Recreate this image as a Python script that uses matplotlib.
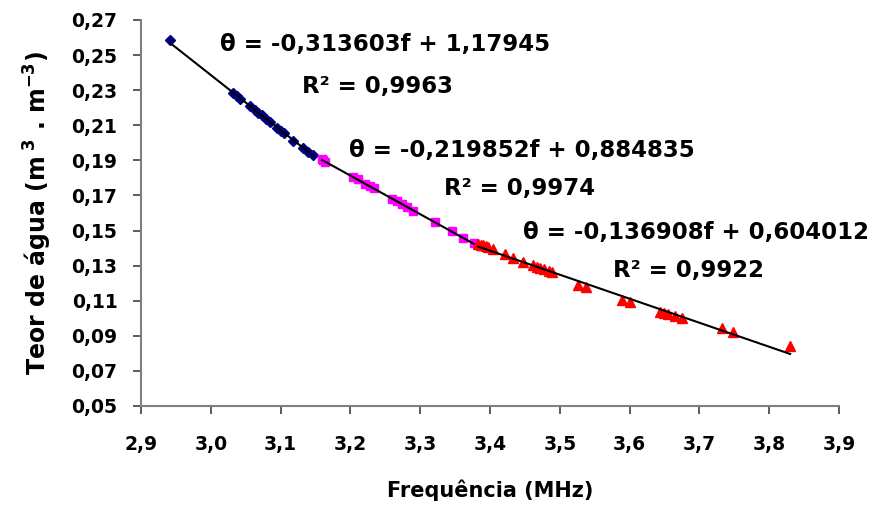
import matplotlib
matplotlib.use("Agg")
import matplotlib.pyplot as plt
import numpy as np
from matplotlib.ticker import FixedLocator, FixedFormatter

# ---- data ----
f_blue = [2.9415, 3.0318, 3.0375, 3.0418, 3.0562, 3.0633, 3.0676, 3.0734, 3.0791,
          3.0848, 3.0948, 3.1006, 3.1049, 3.1178, 3.1321, 3.1393, 3.1464]
t_blue = [0.2585, 0.2282, 0.2266, 0.2250, 0.2212, 0.2186, 0.2172, 0.2160, 0.2136,
          0.2118, 0.2086, 0.2070, 0.2058, 0.2012, 0.1968, 0.1950, 0.1932]

f_mag = [3.1593, 3.1610, 3.1636, 3.2037, 3.2109, 3.2209, 3.2281, 3.2338, 3.2596,
         3.2668, 3.2739, 3.2811, 3.2897, 3.3212, 3.3456, 3.3613, 3.3771]
t_mag = [0.1910, 0.1902, 0.1893, 0.1808, 0.1792, 0.1765, 0.1755, 0.1740, 0.1680,
         0.1670, 0.1650, 0.1632, 0.1614, 0.1550, 0.1495, 0.1455, 0.1428]

f_red = [3.383, 3.387, 3.390, 3.394, 3.397, 3.405, 3.421, 3.433, 3.447, 3.462,
         3.467, 3.472, 3.478, 3.484, 3.489, 3.526, 3.538, 3.589, 3.600, 3.644,
         3.650, 3.655, 3.665, 3.675, 3.732, 3.748, 3.830]
t_red = [0.1425, 0.1420, 0.1418, 0.1412, 0.1408, 0.1392, 0.1368, 0.1345, 0.1322,
         0.1302, 0.1292, 0.1286, 0.1278, 0.1270, 0.1262, 0.1192, 0.1178, 0.1105,
         0.1095, 0.1036, 0.1032, 0.1026, 0.1014, 0.1003, 0.0944, 0.0924, 0.0842]

# regression coefficients (slope, intercept) and R2
fit_blue = (-0.313603, 1.17945)
fit_mag = (-0.219852, 0.884835)
fit_red = (-0.136908, 0.604012)
eq_labels = ["θ = -0,313603f + 1,17945", "θ = -0,219852f + 0,884835",
             "θ = -0,136908f + 0,604012"]
r2_labels = ["R² = 0,9963", "R² = 0,9974", "R² = 0,9922"]

x_ticks = [2.9, 3.0, 3.1, 3.2, 3.3, 3.4, 3.5, 3.6, 3.7, 3.8, 3.9]
x_tick_labels = ["2,9", "3,0", "3,1", "3,2", "3,3", "3,4", "3,5", "3,6", "3,7", "3,8", "3,9"]
y_ticks = [0.05, 0.07, 0.09, 0.11, 0.13, 0.15, 0.17, 0.19, 0.21, 0.23, 0.25, 0.27]
y_tick_labels = ["0,05", "0,07", "0,09", "0,11", "0,13", "0,15", "0,17", "0,19",
                 "0,21", "0,23", "0,25", "0,27"]

plt.rcParams['font.family'] = ['DejaVu Sans']
plt.rcParams['font.weight'] = 'bold'
plt.rcParams['mathtext.default'] = 'bf'

fig = plt.figure(figsize=(8.7, 5.12), dpi=100)
ax = fig.add_axes([141/870, 1 - 406/512, 698/870, 386/512])

ax.plot(f_blue, t_blue, linestyle='none', marker='D', ms=5, color='#000080', zorder=2)
ax.plot(f_mag, t_mag, linestyle='none', marker='s', ms=6, color='#FF00FF', zorder=2)
ax.plot(f_red, t_red, linestyle='none', marker='^', ms=7, color='#FF0000', zorder=2)

for fx, fit in ((f_blue, fit_blue), (f_mag, fit_mag), (f_red, fit_red)):
    xs = np.array([min(fx), max(fx)])
    ax.plot(xs, fit[0] * xs + fit[1], color='black', lw=1.5, zorder=3)

ax.set_xlim(2.9, 3.9)
ax.set_ylim(0.05, 0.27)
ax.xaxis.set_major_locator(FixedLocator(x_ticks))
ax.xaxis.set_major_formatter(FixedFormatter(x_tick_labels))
ax.yaxis.set_major_locator(FixedLocator(y_ticks))
ax.yaxis.set_major_formatter(FixedFormatter(y_tick_labels))

for s in ('top', 'right'):
    ax.spines[s].set_visible(False)
for s in ('left', 'bottom'):
    ax.spines[s].set_color('#808080')
    ax.spines[s].set_linewidth(1.5)
ax.tick_params(axis='both', direction='out', length=6, width=1.2, color='#404040',
               labelsize=13.5)
ax.tick_params(axis='x', pad=15)
ax.tick_params(axis='y', pad=11)
for lab in ax.get_xticklabels() + ax.get_yticklabels():
    lab.set_fontweight('bold')

ax.set_xlabel("Frequência (MHz)", fontsize=15, fontweight='bold')
ax.xaxis.set_label_coords(0.5, -0.19)
ax.set_ylabel("Teor de água (m$^{\\ 3}$ . m$^{-3}$)", fontsize=17, fontweight='bold')
ax.yaxis.set_label_coords(-0.125, 0.5)

eq_pos = [(385, 45), (522, 150), (696, 232)]
r2_pos = [(378, 86), (520, 188), (689, 271)]
for (px, py), txt in zip(eq_pos, eq_labels):
    fig.text(px/870, 1 - py/512, txt, ha='center', va='center', fontsize=16.5,
             fontweight='bold')
for (px, py), txt in zip(r2_pos, r2_labels):
    fig.text(px/870, 1 - py/512, txt, ha='center', va='center', fontsize=16.5,
             fontweight='bold')

fig.savefig("out.png", dpi=100)
